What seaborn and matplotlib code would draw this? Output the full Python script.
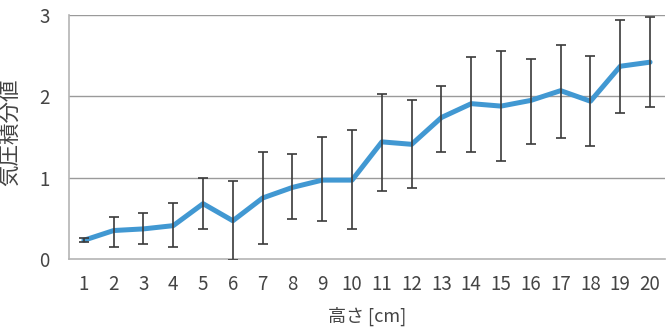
import numpy as np
import pandas as pd
import matplotlib
matplotlib.use("Agg")
import matplotlib.pyplot as plt
import seaborn as sns

# --- Data ---
heights = list(range(1, 21))
pressure_integral = [0.23, 0.35, 0.37, 0.41, 0.68, 0.47, 0.75, 0.88, 0.97, 0.97,
                     1.44, 1.41, 1.74, 1.91, 1.88, 1.95, 2.07, 1.94, 2.37, 2.42]
err_lower = [0.21, 0.15, 0.19, 0.15, 0.37, -0.01, 0.19, 0.49, 0.47, 0.37,
             0.84, 0.87, 1.32, 1.32, 1.20, 1.42, 1.49, 1.39, 1.79, 1.87]
err_upper = [0.26, 0.52, 0.56, 0.69, 0.99, 0.96, 1.32, 1.29, 1.50, 1.58,
             2.03, 1.95, 2.13, 2.48, 2.56, 2.46, 2.63, 2.50, 2.94, 2.98]
y_ticks = [0, 1, 2, 3]

df = pd.DataFrame({"height": heights, "value": pressure_integral,
                   "lo": err_lower, "hi": err_upper})

# --- Style ---
sns.set_theme(style="white")
plt.rcParams['font.family'] = ['Noto Sans CJK JP', 'DejaVu Sans']

fig = plt.figure(figsize=(6.71, 3.30), dpi=100)
ax = fig.add_axes([0.1028, 0.2152, 0.8882, 0.7393])

line_color = "#4198d2"
grid_color = "#9a9a9a"
axis_color = "#b4b4b4"
text_color = "#444444"

sns.lineplot(data=df, x="height", y="value", ax=ax, color=line_color,
             linewidth=3.6, zorder=2)
ax.errorbar(df["height"], df["value"],
            yerr=[df["value"] - df["lo"], df["hi"] - df["value"]],
            fmt="none", ecolor="#3a3a3a", elinewidth=1.2, capsize=3.5,
            capthick=1.2, zorder=3)

ax.set_xlim(0.5, 20.5)
ax.set_ylim(0, 3)
ax.set_yticks(y_ticks)
ax.set_xticks(heights)
ax.set_xticks(np.arange(0.5, 21, 1), minor=True)
ax.tick_params(axis="x", which="major", length=0, pad=11, labelsize=13.5,
               colors=text_color)
ax.tick_params(axis="x", which="minor", length=6, width=1, color=axis_color,
               direction="out")
ax.tick_params(axis="y", which="major", length=6, width=1, color=axis_color,
               pad=8, labelsize=13.5, colors=text_color)
ax.tick_params(axis="y", which="major", color=axis_color)

for y in y_ticks[1:]:
    ax.axhline(y, color=grid_color, linewidth=1, zorder=1)

for side in ["top", "right"]:
    ax.spines[side].set_visible(False)
for side in ["left", "bottom"]:
    ax.spines[side].set_color(axis_color)
    ax.spines[side].set_linewidth(1.2)

ax.set_xlabel("高さ [cm]", fontsize=13, color=text_color, labelpad=2)
ax.set_ylabel("気圧積分値", fontsize=15.5, color=text_color)
ax.xaxis.set_label_coords(0.5, -0.195)
ax.yaxis.set_label_coords(-0.081, 0.52)

fig.savefig("out.png", dpi=100)
